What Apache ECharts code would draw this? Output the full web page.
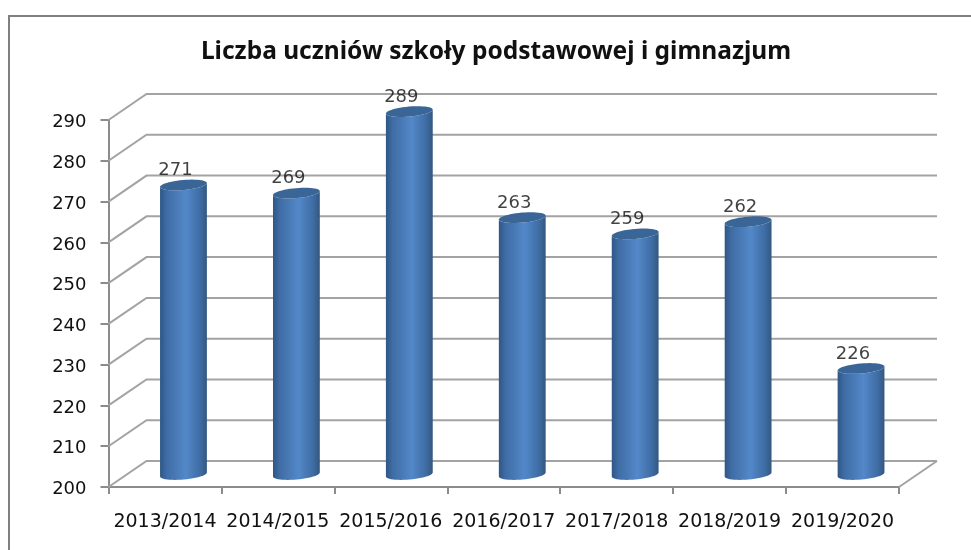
<!DOCTYPE html>
<html><head><meta charset="utf-8">
<style>html,body{margin:0;padding:0;background:#fff}#c{width:971px;height:550px}</style>
<script src="https://cdn.jsdelivr.net/npm/echarts@6/dist/echarts.min.js"></script></head>
<body><div id="c"></div>
<script>
const titleText = 'Liczba uczniów szkoły podstawowej i gimnazjum';
const categories = ['2013/2014','2014/2015','2015/2016','2016/2017','2017/2018','2018/2019','2019/2020'];
const values = [271,269,289,263,259,262,226];
const yTicks = [200,210,220,230,240,250,260,270,280,290];
const depthX = 38, depthY = 26, barOffX = 18.5, barOffY = 12.5, rx = 23.5, ry = 5, tilt = -5 * Math.PI / 180;

function ell(cx, cy, t) {
  return [cx + rx*Math.cos(t)*Math.cos(tilt) - ry*Math.sin(t)*Math.sin(tilt),
          cy + rx*Math.cos(t)*Math.sin(tilt) + ry*Math.sin(t)*Math.cos(tilt)];
}
const chart = echarts.init(document.getElementById('c'));
chart.setOption({
  animation: false,
  backgroundColor: '#fff',
  title: { text: titleText, left: 491, top: 35, textAlign: 'center',
    textStyle: { fontFamily: 'Noto Sans', fontWeight: 'bold', fontSize: 24.5, color: '#111' } },
  graphic: [
    { type: 'polyline', shape: { points: [[9,550],[9,16],[971,16]] }, style: { stroke: '#808080', lineWidth: 2, fill: 'none' } }
  ],
  grid: { left: 108.5, right: 72, top: 120, bottom: 63 },
  xAxis: { type: 'category', data: categories,
    axisLine: { lineStyle: { color: '#8c8c8c', width: 2 } },
    axisTick: { show: true, alignWithLabel: false, length: 7, lineStyle: { color: '#8c8c8c', width: 2 } },
    axisLabel: { interval: 0, margin: 26, fontFamily: 'DejaVu Sans', fontSize: 19, color: '#111' } },
  yAxis: { type: 'value', min: 200, max: 290, interval: 10,
    splitLine: { show: false },
    axisLine: { show: true, lineStyle: { color: '#8c8c8c', width: 2 } },
    axisTick: { show: true, length: 8, lineStyle: { color: '#8c8c8c', width: 2 } },
    axisLabel: { margin: 22, formatter: '{a|{value}}',
      rich: { a: { padding: [5, 0, 0, 0], fontFamily: 'DejaVu Sans', fontSize: 18, color: '#111' } } } },
  series: [
    { type: 'custom', z: 1, silent: true, data: yTicks.map(v => [0, v]),
      renderItem(params, api) {
        const r = params.coordSys;
        const y = api.coord([0, api.value(1)])[1];
        return { type: 'polyline',
          shape: { points: [[r.x, y],[r.x+depthX, y-depthY],[r.x+r.width+depthX, y-depthY]] },
          style: { stroke: '#a3a3a3', lineWidth: 2, fill: 'none' } };
      } },
    { type: 'custom', z: 1, silent: true, data: [[0, yTicks[0]]],
      renderItem(params, api) {
        const r = params.coordSys;
        const y = api.coord([0, api.value(1)])[1];
        return { type: 'line',
          shape: { x1: r.x+r.width, y1: y, x2: r.x+r.width+depthX, y2: y-depthY },
          style: { stroke: '#a3a3a3', lineWidth: 2 } };
      } },
    { type: 'custom', z: 2, silent: true, data: categories.map((c, i) => [i, values[i]]),
      renderItem(params, api) {
        const i = api.value(0);
        const top = api.coord([i, api.value(1)]);
        const base = api.coord([i, yTicks[0]]);
        const cx = top[0] + barOffX, ty = top[1] - barOffY, by = base[1] - barOffY;
        const body = [], cap = [];
        for (let k = 0; k <= 24; k++) body.push(ell(cx, by, Math.PI * k / 24));
        for (let k = 24; k >= 0; k--) body.push(ell(cx, ty, Math.PI * k / 24));
        for (let k = 0; k < 48; k++) cap.push(ell(cx, ty, 2 * Math.PI * k / 48));
        const grad = new echarts.graphic.LinearGradient(0, 0, 1, 0, [
          { offset: 0, color: '#2f5685' }, { offset: 0.14, color: '#3f6ca4' },
          { offset: 0.55, color: '#5388c9' }, { offset: 0.85, color: '#3f6da5' },
          { offset: 1, color: '#33587f' }]);
        return { type: 'group', children: [
          { type: 'polygon', shape: { points: body }, style: { fill: grad, stroke: 'none' } },
          { type: 'polygon', shape: { points: cap }, style: { fill: '#3a6597', stroke: 'none' } }
        ] };
      } },
    { type: 'scatter', z: 3, silent: true, symbolSize: 0, data: categories.map((c, i) => [i, values[i]]),
      label: { show: true, position: 'top', offset: [10.5, -13], formatter: p => String(p.value[1]),
        fontFamily: 'DejaVu Sans', fontSize: 18, color: '#111' } }
  ]
});
</script></body></html>
